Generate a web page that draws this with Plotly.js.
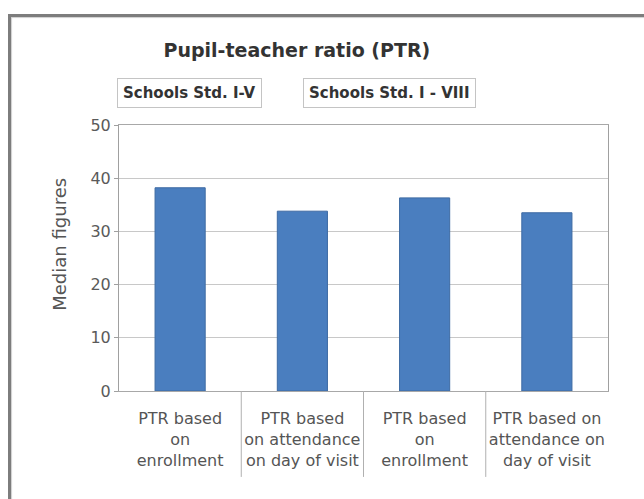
<!DOCTYPE html>
<html>
<head>
<meta charset="utf-8">
<script src="https://cdn.plot.ly/plotly-3.0.1.min.js"></script>
<style>
  html, body { margin: 0; padding: 0; background: #ffffff; }
  #frame { position: absolute; left: 8px; top: 14px; width: 700px; height: 600px;
           border-left: 3px solid #7d7d7d; border-top: 3px solid #7d7d7d;
           box-shadow: inset 1px 1px 1px #cfcfcf; }
  #chart { position: absolute; left: 0; top: 0; width: 644px; height: 499px; }
</style>
</head>
<body>
<div id="frame"></div>
<div id="chart"></div>
<script>
// Data
var categories = [
  "PTR based<br>on<br>enrollment",
  "PTR based<br>on attendance<br>on day of visit",
  "PTR based<br>on<br>enrollment",
  "PTR based on<br>attendance on<br>day of visit"
];
var medianValues = [38.2, 33.8, 36.3, 33.5];
var groupLabels = ["Schools Std. I-V", "Schools Std. I - VIII"];
var yTicks = [0, 10, 20, 30, 40, 50];
var yTitle = "Median figures";

var positions = categories.map(function (_, i) { return i; });

var trace = {
  type: 'bar',
  x: positions,
  y: medianValues,
  marker: { color: '#4a7ebf', line: { color: '#3d6aa3', width: 1 } },
  hoverinfo: 'y'
};

// Category separators extending through the label area
var shapes = [];
for (var i = 1; i < categories.length; i++) {
  shapes.push({
    type: 'line', xref: 'x', yref: 'paper',
    x0: i - 0.5, x1: i - 0.5, y0: 0, y1: -0.323,
    line: { color: '#b0b0b0', width: 1 }
  });
}

var boxStyle = {
  xref: 'paper', yref: 'paper', y: 1.12, xanchor: 'center', yanchor: 'middle',
  showarrow: false, font: { size: 15, color: '#333333' },
  bordercolor: '#c4c4c4', borderwidth: 1, borderpad: 5, bgcolor: '#ffffff'
};

var layout = {
  width: 644, height: 499,
  margin: { l: 119, r: 36, t: 125, b: 108 },
  paper_bgcolor: 'rgba(0,0,0,0)',
  plot_bgcolor: '#ffffff',
  showlegend: false,
  bargap: 0.59,
  font: { family: 'DejaVu Sans, Verdana, sans-serif', color: '#555555' },
  title: {
    text: '<b>Pupil-teacher ratio (PTR)</b>',
    font: { family: 'DejaVu Sans, Verdana, sans-serif', size: 19, color: '#333333' },
    xref: 'container', yref: 'container', x: 0.461, y: 0.9,
    xanchor: 'center', yanchor: 'middle'
  },
  xaxis: {
    range: [-0.5, categories.length - 0.5],
    tickmode: 'array', tickvals: positions, ticktext: categories,
    showgrid: false, zeroline: false,
    showline: true, linecolor: '#a8a8a8', linewidth: 1, mirror: true,
    ticks: '', ticklabelstandoff: 13,
    tickfont: { size: 16, color: '#555555' },
    fixedrange: true
  },
  yaxis: {
    range: [0, 50], tickmode: 'array', tickvals: yTicks,
    showgrid: true, gridcolor: '#c8c8c8', gridwidth: 1,
    zeroline: false,
    showline: true, linecolor: '#a0a0a0', linewidth: 1, mirror: true,
    ticks: 'outside', ticklen: 4, tickcolor: '#a0a0a0',
    tickfont: { size: 16, color: '#5a5a5a' },
    fixedrange: true
  },
  shapes: shapes,
  annotations: [
    Object.assign({ text: '<b>' + groupLabels[0] + '</b>', x: 0.145 }, boxStyle),
    Object.assign({ text: '<b>' + groupLabels[1] + '</b>', x: 0.553 }, boxStyle),
    {
      text: yTitle, xref: 'paper', yref: 'paper', x: -0.121, y: 0.553,
      xanchor: 'center', yanchor: 'middle', textangle: -90, showarrow: false,
      font: { size: 18, color: '#555555' }
    }
  ]
};

Plotly.newPlot('chart', [trace], layout, { displayModeBar: false, staticPlot: true });
</script>
</body>
</html>
